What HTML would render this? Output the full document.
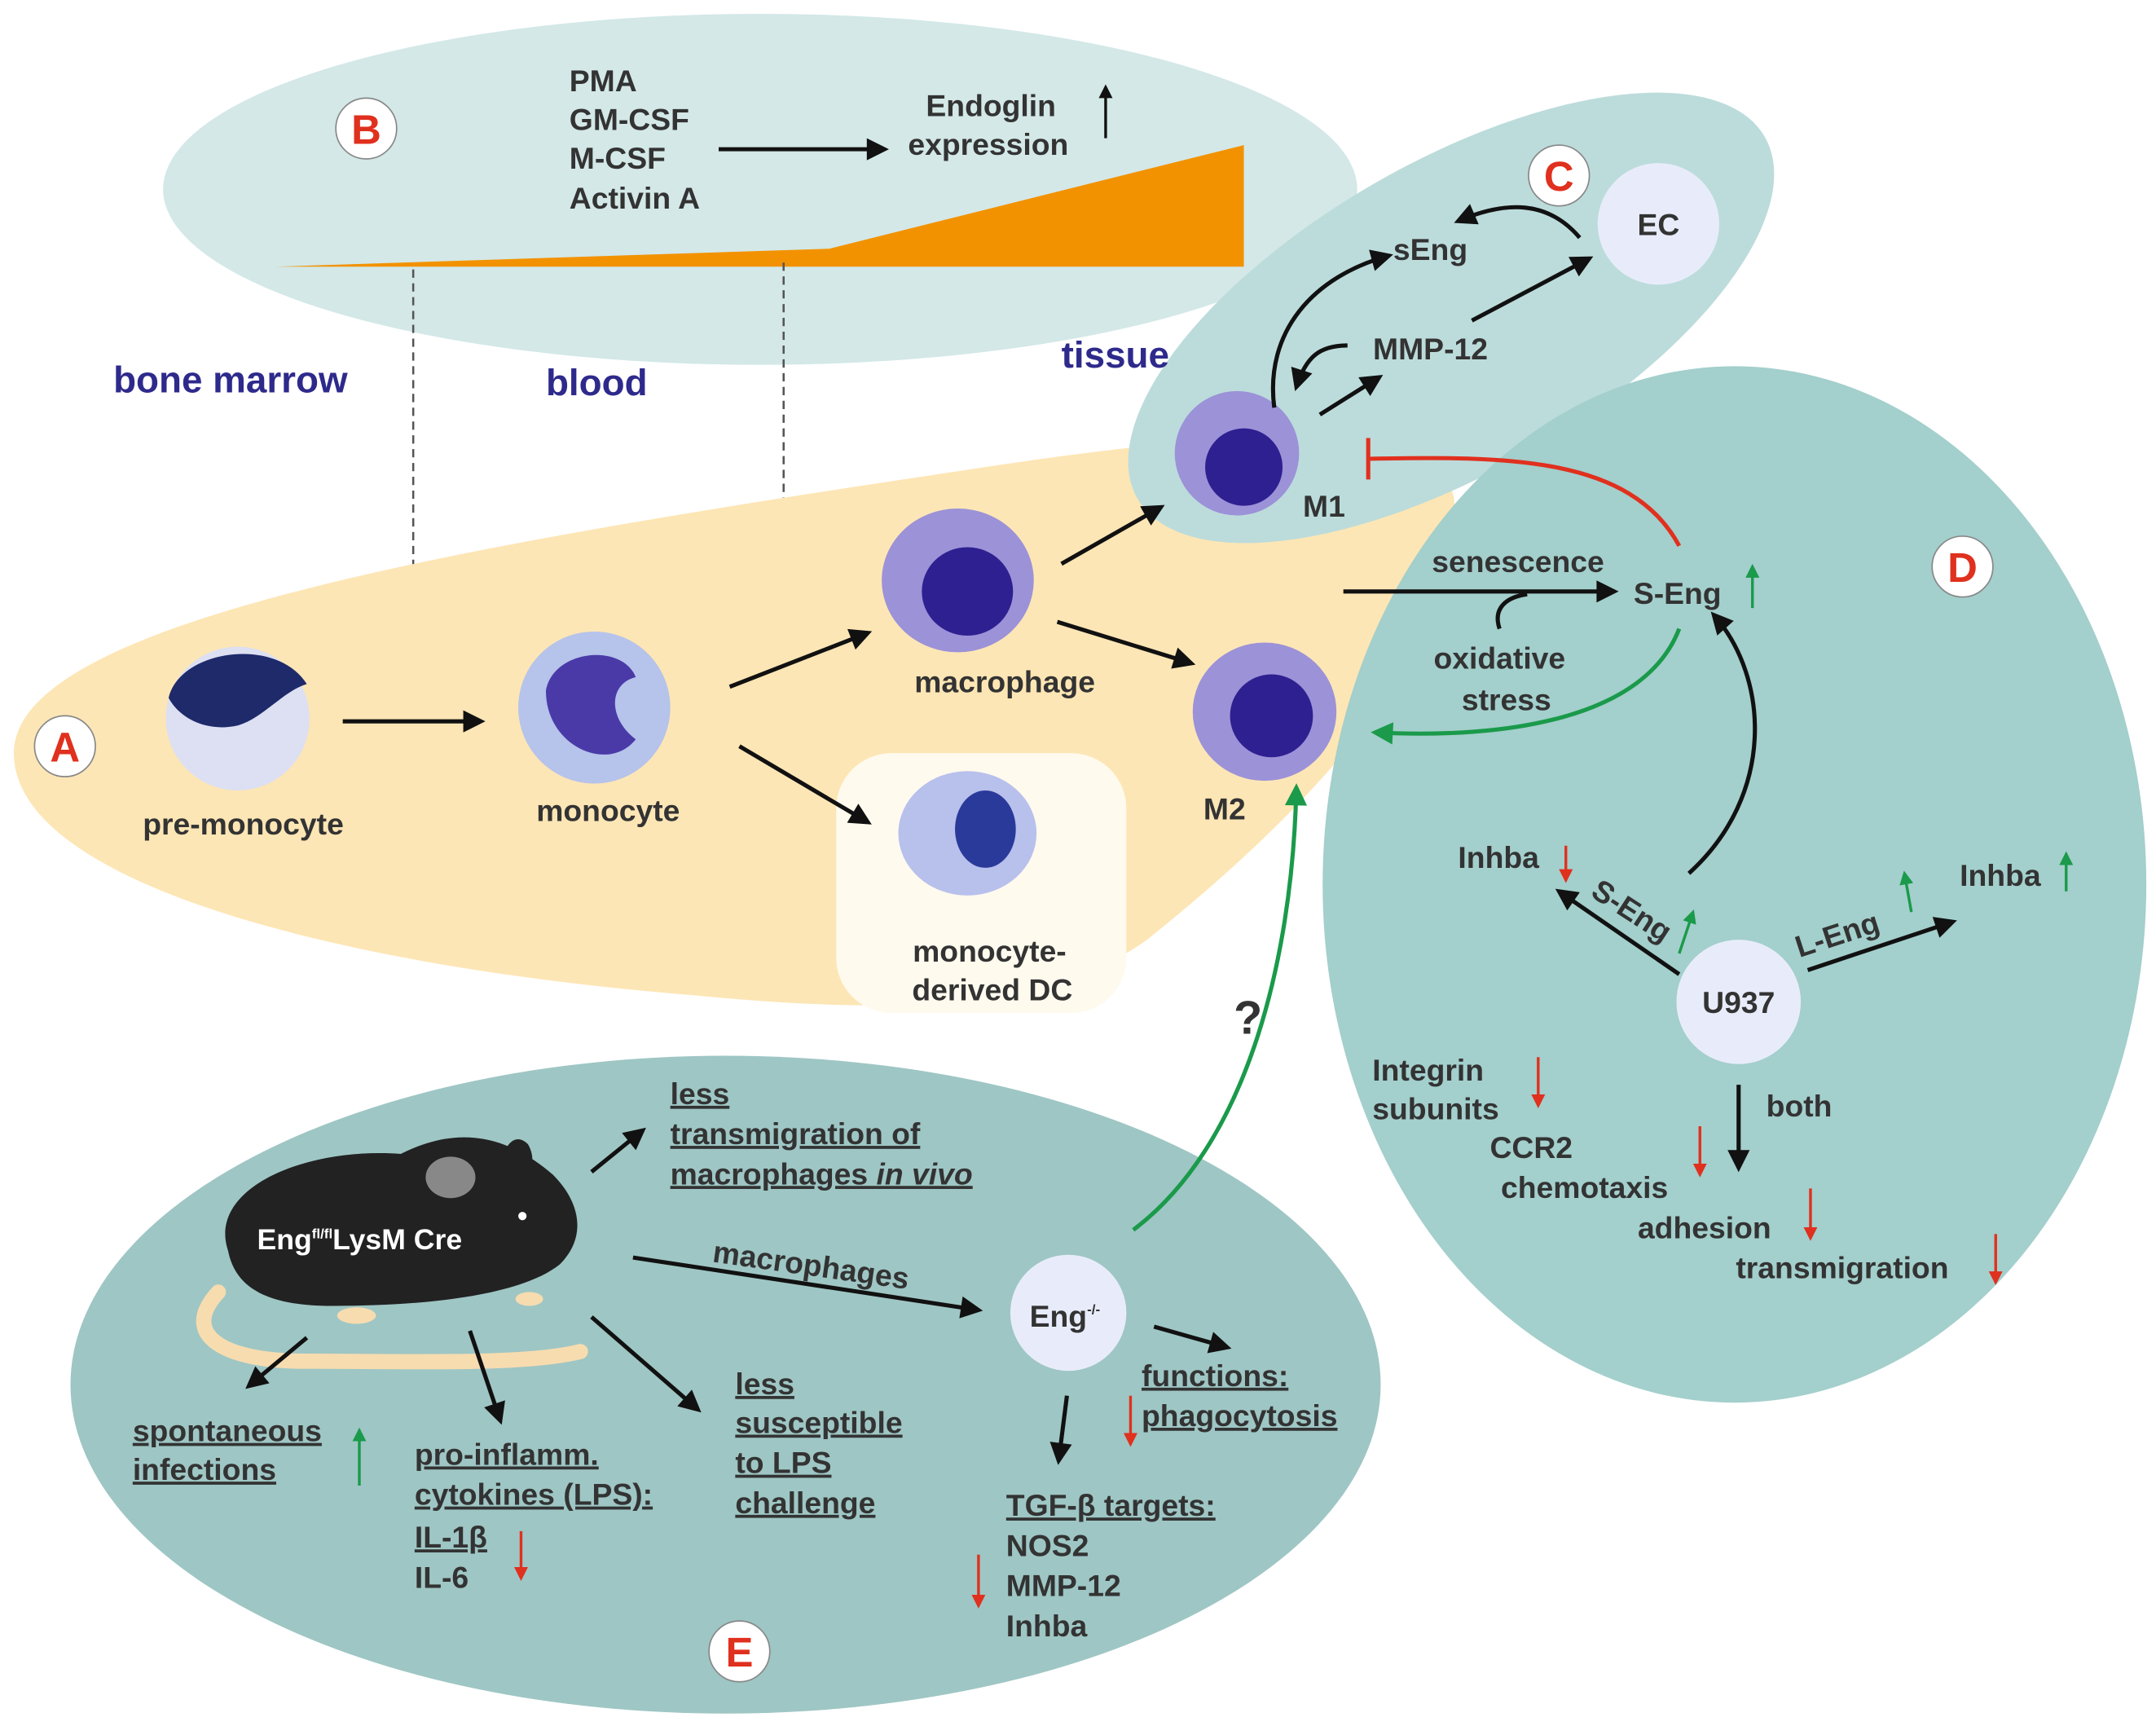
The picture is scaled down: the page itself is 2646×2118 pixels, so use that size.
<!DOCTYPE html>
<html><head><meta charset="utf-8"><style>
html,body{margin:0;padding:0;background:#fff;}
svg{display:block;}
text{font-family:"Liberation Sans",sans-serif;font-weight:bold;fill:#333;}
.n{fill:#2e2a8c;font-size:27px;}
.t{font-size:22px;}
.u{text-decoration:underline;}
</style></head><body>
<svg width="2646" height="2118" viewBox="0 0 1560 1249" preserveAspectRatio="none" xmlns="http://www.w3.org/2000/svg">
<defs>
<marker id="k" viewBox="0 0 10 10" markerWidth="18" markerHeight="16" refX="8" refY="5" orient="auto" markerUnits="userSpaceOnUse"><path d="M0,0 L10,5 L0,10 Z" fill="#111"/></marker>
<marker id="ks" viewBox="0 0 10 10" markerWidth="10" markerHeight="10" refX="8" refY="5" orient="auto" markerUnits="userSpaceOnUse"><path d="M0,0 L10,5 L0,10 Z" fill="#111"/></marker>
<marker id="g" viewBox="0 0 10 10" markerWidth="18" markerHeight="16" refX="8" refY="5" orient="auto" markerUnits="userSpaceOnUse"><path d="M0,0 L10,5 L0,10 Z" fill="#1a9a4a"/></marker>
<marker id="r" viewBox="0 0 10 10" markerWidth="10" markerHeight="10" refX="8" refY="5" orient="auto" markerUnits="userSpaceOnUse"><path d="M0,0 L10,5 L0,10 Z" fill="#e0301e"/></marker>
<marker id="gs" viewBox="0 0 10 10" markerWidth="10" markerHeight="10" refX="8" refY="5" orient="auto" markerUnits="userSpaceOnUse"><path d="M0,0 L10,5 L0,10 Z" fill="#1a9a4a"/></marker>
</defs>
<!-- B -->
<ellipse cx="550" cy="137" rx="432" ry="127" fill="#d3e8e7"/>
<polygon points="200,193 600,180 900,105 900,193" fill="#f39200"/>
<line x1="299" y1="195" x2="299" y2="500" stroke="#555" stroke-width="1.5" stroke-dasharray="6,4"/>
<line x1="567" y1="190" x2="567" y2="450" stroke="#555" stroke-width="1.5" stroke-dasharray="6,4"/>
<!-- A -->
<path d="M10,545 C10,450 330,395 700,340 C880,312 1040,300 1052,360 C1060,450 980,560 830,680 C760,730 650,735 500,720 C250,700 10,640 10,545 Z" fill="#fde6b5"/>
<rect x="605" y="545" width="210" height="188" rx="40" fill="#fffaee"/>
<!-- C -->
<ellipse cx="1050" cy="230" rx="262" ry="112" transform="rotate(-30 1050 230)" fill="#bcdcdb"/>
<!-- D -->
<ellipse cx="1255" cy="640" rx="298" ry="375" fill="#a3cfcc"/>
<!-- E -->
<ellipse cx="525" cy="1002" rx="474" ry="238" fill="#9ec6c4"/>

<text x="412" y="66" class="t">PMA</text>
<text x="412" y="94" class="t">GM-CSF</text>
<text x="412" y="122" class="t">M-CSF</text>
<text x="412" y="151" class="t">Activin A</text>
<line x1="520" y1="108" x2="640" y2="108" stroke="#111" stroke-width="3" marker-end="url(#k)"/>
<text x="670" y="84" class="t">Endoglin</text>
<text x="657" y="112" class="t">expression</text>
<line x1="800" y1="100" x2="800" y2="63" stroke="#111" stroke-width="2" marker-end="url(#ks)"/>
<text x="82" y="284" class="n">bone marrow</text>
<text x="395" y="286" class="n">blood</text>
<text x="768" y="266" class="n">tissue</text>

<g font-family="Liberation Sans" font-weight="bold">
<circle cx="265" cy="93" r="22" fill="#fff" stroke="#888"/><text x="265" y="104" text-anchor="middle" style="fill:#e0301e;font-size:30px">B</text>
<circle cx="1128" cy="127" r="22" fill="#fff" stroke="#888"/><text x="1128" y="138" text-anchor="middle" style="fill:#e0301e;font-size:30px">C</text>
<circle cx="47" cy="540" r="22" fill="#fff" stroke="#888"/><text x="47" y="551" text-anchor="middle" style="fill:#e0301e;font-size:30px">A</text>
<circle cx="1420" cy="410" r="22" fill="#fff" stroke="#888"/><text x="1420" y="421" text-anchor="middle" style="fill:#e0301e;font-size:30px">D</text>
<circle cx="535" cy="1195" r="22" fill="#fff" stroke="#888"/><text x="535" y="1206" text-anchor="middle" style="fill:#e0301e;font-size:30px">E</text>
</g>

<circle cx="172" cy="520" r="52" fill="#dce0f2"/>
<path d="M122,505 C130,470 200,460 222,495 C205,500 190,520 172,525 C150,530 130,520 122,505Z" fill="#1e2a6a"/>
<text x="176" y="604" class="t" text-anchor="middle">pre-monocyte</text>
<line x1="248" y1="522" x2="348" y2="522" stroke="#111" stroke-width="3" marker-end="url(#k)"/>
<circle cx="430" cy="512" r="55" fill="#b6c3ea"/>
<path d="M395,500 C400,470 450,465 460,490 C440,495 440,520 460,535 C440,560 395,540 395,500Z" fill="#4a3aa8"/>
<text x="440" y="594" class="t" text-anchor="middle">monocyte</text>
<line x1="528" y1="497" x2="628" y2="458" stroke="#111" stroke-width="3" marker-end="url(#k)"/>
<line x1="535" y1="540" x2="628" y2="595" stroke="#111" stroke-width="3" marker-end="url(#k)"/>
<ellipse cx="693" cy="420" rx="55" ry="52" fill="#9b92d8"/>
<ellipse cx="700" cy="428" rx="33" ry="32" fill="#2e2090"/>
<text x="727" y="501" class="t" text-anchor="middle">macrophage</text>
<ellipse cx="700" cy="603" rx="50" ry="45" fill="#b8c0ec"/>
<ellipse cx="713" cy="600" rx="22" ry="28" fill="#2a3a9a"/>
<text x="716" y="696" class="t" text-anchor="middle">monocyte-</text>
<text x="718" y="724" class="t" text-anchor="middle">derived DC</text>
<line x1="768" y1="408" x2="840" y2="367" stroke="#111" stroke-width="3" marker-end="url(#k)"/>
<line x1="765" y1="450" x2="862" y2="480" stroke="#111" stroke-width="3" marker-end="url(#k)"/>
<ellipse cx="895" cy="328" rx="45" ry="45" fill="#9b92d8"/>
<ellipse cx="900" cy="338" rx="28" ry="28" fill="#2e2090"/>
<text x="958" y="374" class="t" text-anchor="middle">M1</text>
<ellipse cx="915" cy="515" rx="52" ry="50" fill="#9b92d8"/>
<ellipse cx="920" cy="518" rx="30" ry="30" fill="#2e2090"/>
<text x="886" y="593" class="t" text-anchor="middle">M2</text>

<circle cx="1200" cy="162" r="44" fill="#e8ecfa"/>
<text x="1200" y="170" class="t" text-anchor="middle">EC</text>
<text x="1035" y="188" class="t" text-anchor="middle">sEng</text>
<text x="1035" y="260" class="t" text-anchor="middle">MMP-12</text>
<path d="M1143,172 C1120,145 1090,145 1055,160" fill="none" stroke="#111" stroke-width="3" marker-end="url(#k)"/>
<path d="M922,295 C915,240 950,200 1005,185" fill="none" stroke="#111" stroke-width="3" marker-end="url(#k)"/>
<path d="M975,250 C955,250 945,258 938,280" fill="none" stroke="#111" stroke-width="3" marker-end="url(#k)"/>
<line x1="955" y1="300" x2="998" y2="273" stroke="#111" stroke-width="3" marker-end="url(#k)"/>
<line x1="1065" y1="232" x2="1150" y2="187" stroke="#111" stroke-width="3" marker-end="url(#k)"/>

<path d="M1215,395 C1180,330 1090,330 990,332" fill="none" stroke="#e0301e" stroke-width="3"/>
<line x1="990" y1="317" x2="990" y2="347" stroke="#e0301e" stroke-width="3"/>
<text x="1036" y="414" class="t">senescence</text>
<line x1="972" y1="428" x2="1168" y2="428" stroke="#111" stroke-width="3" marker-end="url(#k)"/>
<path d="M1085,455 C1080,440 1090,432 1105,430" fill="none" stroke="#111" stroke-width="3"/>
<text x="1085" y="484" class="t" text-anchor="middle">oxidative</text>
<text x="1090" y="514" class="t" text-anchor="middle">stress</text>
<text x="1182" y="437" class="t">S-Eng</text>
<line x1="1268" y1="440" x2="1268" y2="410" stroke="#1a9a4a" stroke-width="2" marker-end="url(#gs)"/>
<path d="M1215,455 C1190,520 1090,535 995,530" fill="none" stroke="#1a9a4a" stroke-width="3" marker-end="url(#g)"/>
<path d="M1222,632 C1285,575 1280,490 1240,445" fill="none" stroke="#111" stroke-width="3" marker-end="url(#k)"/>
<circle cx="1258" cy="725" r="45" fill="#e8ecfa"/>
<text x="1258" y="733" class="t" text-anchor="middle">U937</text>
<line x1="1215" y1="705" x2="1128" y2="645" stroke="#111" stroke-width="3" marker-end="url(#k)"/>
<text x="1150" y="648" class="t" transform="rotate(33 1150 648)">S-Eng</text>
<line x1="1215" y1="690" x2="1225" y2="660" stroke="#1a9a4a" stroke-width="2" marker-end="url(#gs)"/>
<text x="1055" y="628" class="t">Inhba</text>
<line x1="1133" y1="612" x2="1133" y2="637" stroke="#e0301e" stroke-width="2" marker-end="url(#r)"/>
<line x1="1308" y1="702" x2="1413" y2="667" stroke="#111" stroke-width="3" marker-end="url(#k)"/>
<text x="1302" y="693" class="t" transform="rotate(-18 1302 693)">L-Eng</text>
<line x1="1383" y1="660" x2="1378" y2="632" stroke="#1a9a4a" stroke-width="2" marker-end="url(#gs)"/>
<text x="1418" y="641" class="t">Inhba</text>
<line x1="1495" y1="645" x2="1495" y2="618" stroke="#1a9a4a" stroke-width="2" marker-end="url(#gs)"/>
<line x1="1258" y1="785" x2="1258" y2="845" stroke="#111" stroke-width="3" marker-end="url(#k)"/>
<text x="1278" y="808" class="t">both</text>
<text x="993" y="782" class="t">Integrin</text>
<text x="993" y="810" class="t">subunits</text>
<line x1="1113" y1="765" x2="1113" y2="800" stroke="#e0301e" stroke-width="2" marker-end="url(#r)"/>
<text x="1078" y="838" class="t">CCR2</text>
<text x="1086" y="867" class="t">chemotaxis</text>
<line x1="1230" y1="815" x2="1230" y2="850" stroke="#e0301e" stroke-width="2" marker-end="url(#r)"/>
<text x="1185" y="896" class="t">adhesion</text>
<line x1="1310" y1="860" x2="1310" y2="896" stroke="#e0301e" stroke-width="2" marker-end="url(#r)"/>
<text x="1256" y="925" class="t">transmigration</text>
<line x1="1444" y1="893" x2="1444" y2="928" stroke="#e0301e" stroke-width="2" marker-end="url(#r)"/>

<text x="903" y="748" style="font-size:34px" text-anchor="middle">?</text>
<path d="M820,890 C900,830 935,700 938,570" fill="none" stroke="#1a9a4a" stroke-width="3" marker-end="url(#g)"/>
<!-- mouse -->
<path d="M158,935 C130,965 160,985 220,985 C300,985 380,988 420,978" fill="none" stroke="#f7dcb0" stroke-width="11" stroke-linecap="round"/>
<path d="M165,905 C150,860 220,830 290,835 C330,815 365,820 400,850 C420,870 425,895 405,915 C380,935 320,945 240,945 C190,945 170,930 165,905Z" fill="#222"/>
<path d="M362,852 C362,830 372,818 382,828 C388,838 385,850 378,858Z" fill="#222"/>
<ellipse cx="326" cy="852" rx="18" ry="15" fill="#888"/>
<circle cx="378" cy="880" r="3" fill="#fff"/>
<ellipse cx="258" cy="952" rx="14" ry="6" fill="#f7dcb0"/>
<ellipse cx="383" cy="940" rx="10" ry="5" fill="#f7dcb0"/>
<text x="186" y="904" style="fill:#fff;font-size:21px">Eng<tspan dy="-8" style="font-size:10px;fill:#fff">fl/fl</tspan><tspan dy="8" style="fill:#fff">LysM Cre</tspan></text>
<line x1="428" y1="848" x2="465" y2="818" stroke="#111" stroke-width="3" marker-end="url(#k)"/>
<text x="485" y="799" class="t u">less</text>
<text x="485" y="828" class="t u">transmigration of</text>
<text x="485" y="857" class="t u">macrophages <tspan font-style="italic">in vivo</tspan></text>
<line x1="458" y1="910" x2="708" y2="948" stroke="#111" stroke-width="3" marker-end="url(#k)"/>
<text x="515" y="913" class="t" transform="rotate(8 515 913)">macrophages</text>
<circle cx="773" cy="950" r="42" fill="#e8ecfa"/>
<text x="745" y="960" class="t">Eng<tspan dy="-9" style="font-size:10px">-/-</tspan></text>
<line x1="835" y1="960" x2="888" y2="975" stroke="#111" stroke-width="3" marker-end="url(#k)"/>
<text x="826" y="1003" class="t u">functions:</text>
<text x="826" y="1032" class="t u">phagocytosis</text>
<line x1="818" y1="1010" x2="818" y2="1045" stroke="#e0301e" stroke-width="2" marker-end="url(#r)"/>
<line x1="772" y1="1010" x2="766" y2="1057" stroke="#111" stroke-width="3" marker-end="url(#k)"/>
<text x="728" y="1097" class="t u">TGF-β targets:</text>
<text x="728" y="1126" class="t">NOS2</text>
<text x="728" y="1155" class="t">MMP-12</text>
<text x="728" y="1184" class="t">Inhba</text>
<line x1="708" y1="1125" x2="708" y2="1162" stroke="#e0301e" stroke-width="2" marker-end="url(#r)"/>
<line x1="222" y1="968" x2="180" y2="1003" stroke="#111" stroke-width="3" marker-end="url(#k)"/>
<text x="96" y="1043" class="t u">spontaneous</text>
<text x="96" y="1071" class="t u">infections</text>
<line x1="260" y1="1075" x2="260" y2="1035" stroke="#1a9a4a" stroke-width="2" marker-end="url(#gs)"/>
<line x1="340" y1="963" x2="362" y2="1028" stroke="#111" stroke-width="3" marker-end="url(#k)"/>
<text x="300" y="1060" class="t u">pro-inflamm.</text>
<text x="300" y="1089" class="t u">cytokines (LPS):</text>
<text x="300" y="1120" class="t u">IL-1β</text>
<text x="300" y="1149" class="t">IL-6</text>
<line x1="377" y1="1108" x2="377" y2="1142" stroke="#e0301e" stroke-width="2" marker-end="url(#r)"/>
<line x1="428" y1="953" x2="505" y2="1020" stroke="#111" stroke-width="3" marker-end="url(#k)"/>
<text x="532" y="1009" class="t u">less</text>
<text x="532" y="1037" class="t u">susceptible</text>
<text x="532" y="1066" class="t u">to LPS</text>
<text x="532" y="1095" class="t u">challenge</text>
</svg>
</body></html>
